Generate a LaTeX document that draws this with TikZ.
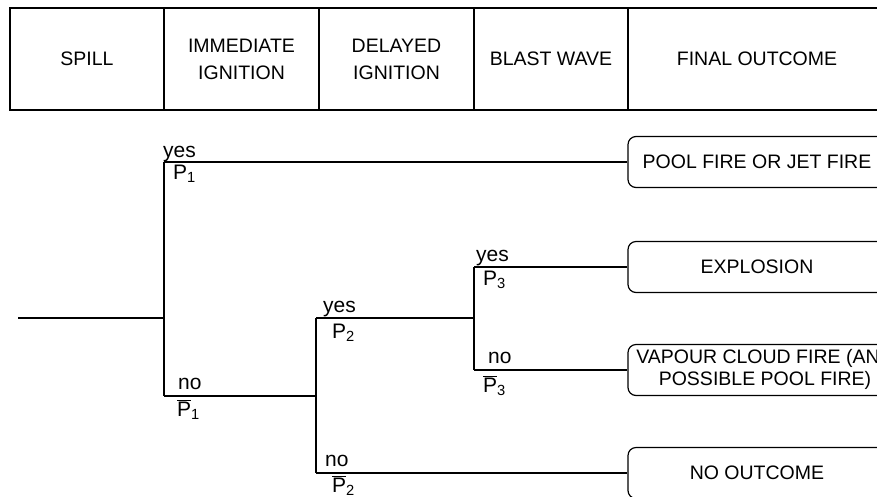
\documentclass[tikz,border=0pt]{standalone}
\usepackage{fontspec}
\setmainfont{Liberation Sans}
\usepackage{tikz}
\usetikzlibrary{positioning,calc}

\newcommand{\pbar}[1]{$\overline{\mbox{P}}$\textsubscript{#1}}

\begin{document}
\begin{tikzpicture}[
  x=1pt, y=-1pt,
  headcell/.style={draw, line width=1.4pt, minimum height=102pt, inner sep=0pt,
                   outer sep=0pt, align=center, font=\fontsize{19.5}{27}\selectfont},
  outbox/.style={draw, line width=1.2pt, rounded corners=8pt, minimum width=258pt,
                 minimum height=51pt, inner sep=0pt, align=center,
                 font=\fontsize{19.5}{22}\selectfont},
  lbl/.style={anchor=base west, inner sep=0pt, font=\fontsize{21}{25}\selectfont},
  branch/.style={line width=1.1pt}
]
  \useasboundingbox (0,0) rectangle (877,496);
  \clip (0,0) rectangle (877,496);

  % Header row
  \node[headcell, minimum width=154pt] (spill) at (87,59) {SPILL};
  \node[headcell, minimum width=155pt] (immed) at (241.5,59) {IMMEDIATE\\IGNITION};
  \node[headcell, minimum width=155pt] (delay) at (396.5,59) {DELAYED\\IGNITION};
  \node[headcell, minimum width=154pt] (blast) at (551,59) {BLAST WAVE};
  \node[headcell, minimum width=258pt] (final) at (757,59) {FINAL OUTCOME};

  % Outcomes
  \node[outbox] (pool) at (757,162) {POOL FIRE OR JET FIRE};
  \node[outbox] (expl) at (757,267) {EXPLOSION};
  \node[outbox] (vcf) at (757,370) {};
  \node[align=center, inner sep=0pt, font=\fontsize{19.5}{22}\selectfont] (vcftext)
    at (765,369) {VAPOUR CLOUD FIRE (AND\\POSSIBLE POOL FIRE)};
  \node[outbox] (none) at (757,473) {NO OUTCOME};

  % Branch points
  \coordinate (root) at (18,318);
  \coordinate (a) at (164,318);
  \coordinate (a1) at (164,162);
  \coordinate (a2) at (164,396);
  \coordinate (b) at (316,396);
  \coordinate (b1) at (316,318);
  \coordinate (b2) at (316,473);
  \coordinate (c) at (474,318);
  \coordinate (c1) at (474,267);
  \coordinate (c2) at (474,370);

  % Tree
  \draw[branch] (root) -- (a);
  \draw[branch] (a1) -- (a2);
  \draw[branch] (a1) -- (pool.west);
  \draw[branch] (a2) -- (b);
  \draw[branch] (b1) -- (b2);
  \draw[branch] (b1) -- (c);
  \draw[branch] (c1) -- (c2);
  \draw[branch] (c1) -- (expl.west);
  \draw[branch] (c2) -- (vcf.west);
  \draw[branch] (b2) -- (none.west);

  % Branch labels
  \node[lbl] (yes1) at (163,157) {yes};
  \node[lbl] (p1) at (173,179) {P\textsubscript{1}};
  \node[lbl] (no1) at (178,389) {no};
  \node[lbl] (np1) at (177,416) {\pbar{1}};
  \node[lbl] (yes2) at (323,312) {yes};
  \node[lbl] (p2) at (332,338) {P\textsubscript{2}};
  \node[lbl] (no2) at (325,466) {no};
  \node[lbl] (np2) at (332,492) {\pbar{2}};
  \node[lbl] (yes3) at (476,261) {yes};
  \node[lbl] (p3) at (483,285) {P\textsubscript{3}};
  \node[lbl] (no3) at (488,363) {no};
  \node[lbl] (np3) at (483,392) {\pbar{3}};
\end{tikzpicture}
\end{document}
